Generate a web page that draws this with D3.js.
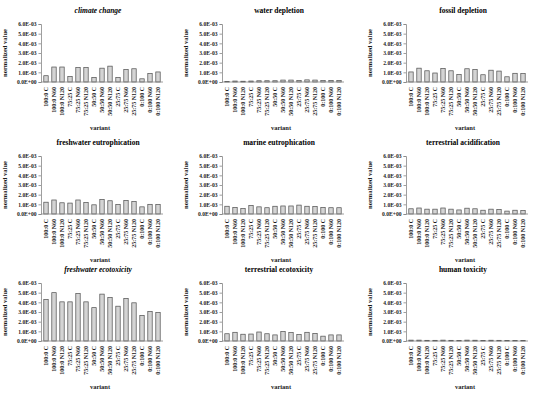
<!DOCTYPE html>
<html>
<head>
<meta charset="utf-8">
<script src="https://cdn.jsdelivr.net/npm/d3@7"></script>
<style>
  body { margin: 0; background: #fff; }
  text { font-family: "Liberation Serif", "DejaVu Serif", serif; }
</style>
</head>
<body>
<div id="my_dataviz"></div>
<script>
var width = 550
var height = 395

var variants = ["100:0 C", "100:0 N60", "100:0 N120", "75:25 C", "75:25 N60", "75:25 N120",
  "50:50 C", "50:50 N60", "50:50 N120", "25:75 C", "25:75 N60", "25:75 N120",
  "0:100 C", "0:100 N60", "0:100 N120"]

var titles = ["climate change", "water depletion", "fossil depletion",
  "freshwater eutrophication", "marine eutrophication", "terrestrial acidification",
  "freshwater ecotoxicity", "terrestrial ecotoxicity", "human toxicity"]

var yTicks = [0, 0.001, 0.002, 0.003, 0.004, 0.005, 0.006]

// values in 1E-03
var climateChange = [0.65, 1.55, 1.55, 0.57, 1.49, 1.49, 0.48, 1.43, 1.64, 0.48, 1.28, 1.37, 0.33, 0.87, 1.04]
var waterDepletion = [0.06, 0.1, 0.08, 0.1, 0.13, 0.13, 0.13, 0.2, 0.2, 0.17, 0.22, 0.2, 0.15, 0.17, 0.17]
var fossilDepletion = [1.04, 1.43, 1.16, 0.93, 1.4, 1.16, 0.78, 1.37, 1.28, 0.75, 1.22, 1.13, 0.54, 0.9, 0.87]
var freshwaterEutro = [1.22, 1.45, 1.16, 1.13, 1.45, 1.19, 0.95, 1.51, 1.37, 0.98, 1.4, 1.28, 0.74, 1.0, 0.98]
var marineEutro = [0.8, 0.68, 0.56, 0.89, 0.74, 0.65, 0.8, 0.83, 0.83, 0.92, 0.8, 0.77, 0.68, 0.65, 0.65]
var terrAcid = [0.54, 0.62, 0.5, 0.5, 0.62, 0.5, 0.42, 0.6, 0.54, 0.39, 0.5, 0.48, 0.3, 0.39, 0.36]
var freshwaterEcotox = [4.3, 5.0, 4.05, 4.05, 4.9, 4.05, 3.45, 4.85, 4.5, 3.6, 4.4, 3.95, 2.65, 3.05, 2.95]
var terrEcotox = [0.75, 0.9, 0.7, 0.72, 0.93, 0.75, 0.63, 0.98, 0.87, 0.66, 0.9, 0.78, 0.5, 0.63, 0.63]
var humanTox = [0.09, 0.09, 0.07, 0.07, 0.09, 0.07, 0.06, 0.09, 0.08, 0.06, 0.08, 0.07, 0.05, 0.06, 0.06]

var series = [climateChange, waterDepletion, fossilDepletion, freshwaterEutro, marineEutro,
  terrAcid, freshwaterEcotox, terrEcotox, humanTox]

var italicTitles = ["climate change", "freshwater ecotoxicity"]

var colX = [0, 181, 365]
var rowY = [0, 132, 259]

var svg = d3.select("#my_dataviz")
  .append("svg")
    .attr("width", width)
    .attr("height", height)

var x = d3.scaleBand()
  .domain(variants)
  .range([41, 163])
  .paddingInner(0.45)
  .paddingOuter(0.35)

var y = d3.scaleLinear()
  .domain([0, 0.006])
  .range([82, 24])

var fmt = function(d) {
  if (d === 0) return "0.0E+00"
  var s = d.toExponential(1).split("e")
  var e = +s[1]
  return s[0] + "E" + (e < 0 ? "-" : "+") + d3.format("02")(Math.abs(e))
}

titles.forEach(function(title, i) {
  var g = svg.append("g")
    .attr("transform", "translate(" + colX[i % 3] + "," + rowY[Math.floor(i / 3)] + ")")

  g.append("text")
    .attr("x", 98)
    .attr("y", 13)
    .attr("text-anchor", "middle")
    .style("font-size", "7.5px")
    .style("font-weight", "bold")
    .style("font-style", italicTitles.indexOf(title) >= 0 ? "italic" : "normal")
    .style("fill", "#000")
    .text(title)

  var yAxis = g.append("g")
    .attr("transform", "translate(41,0)")
    .call(d3.axisLeft(y).tickValues(yTicks).tickFormat(fmt).tickSize(2.5).tickPadding(2))
  yAxis.select(".domain").attr("stroke", "#868686").attr("stroke-width", 0.8)
  yAxis.selectAll(".tick line").attr("stroke", "#868686").attr("stroke-width", 0.8)
  yAxis.selectAll(".tick text")
    .style("font-size", "5.6px")
    .style("font-weight", "bold")
    .style("font-family", "'Liberation Serif', serif")
    .attr("fill", "#1a1a1a")

  g.selectAll("rect.bar")
    .data(series[i])
    .enter()
    .append("rect")
      .attr("class", "bar")
      .attr("x", function(d, j) { return x(variants[j]) })
      .attr("width", x.bandwidth())
      .attr("y", function(d) { return y(d / 1000) })
      .attr("height", function(d) { return y(0) - y(d / 1000) })
      .attr("fill", "#d4d4d4")
      .attr("stroke", "#4d4d4d")
      .attr("stroke-width", 0.7)

  g.append("line")
    .attr("x1", 41)
    .attr("x2", 163)
    .attr("y1", y(0))
    .attr("y2", y(0))
    .attr("stroke", "#868686")
    .attr("stroke-width", 0.8)

  g.selectAll("text.xlab")
    .data(variants)
    .enter()
    .append("text")
      .attr("class", "xlab")
      .attr("transform", function(d) {
        return "translate(" + (x(d) + x.bandwidth() / 2 + 2) + "," + 87 + ") rotate(-90)"
      })
      .attr("text-anchor", "end")
      .style("font-size", "6px")
      .style("font-weight", "bold")
      .style("fill", "#1a1a1a")
      .text(function(d) { return d })

  g.append("text")
    .attr("transform", "translate(7," + ((y(0) + y(0.006)) / 2) + ") rotate(-90)")
    .attr("text-anchor", "middle")
    .style("font-size", "6.5px")
    .style("font-weight", "bold")
    .style("fill", "#1a1a1a")
    .text("normalized value")

  g.append("text")
    .attr("x", 100)
    .attr("y", 130)
    .attr("text-anchor", "middle")
    .style("font-size", "6.5px")
    .style("font-weight", "bold")
    .style("fill", "#1a1a1a")
    .text("variant")
})
</script>
</body>
</html>
